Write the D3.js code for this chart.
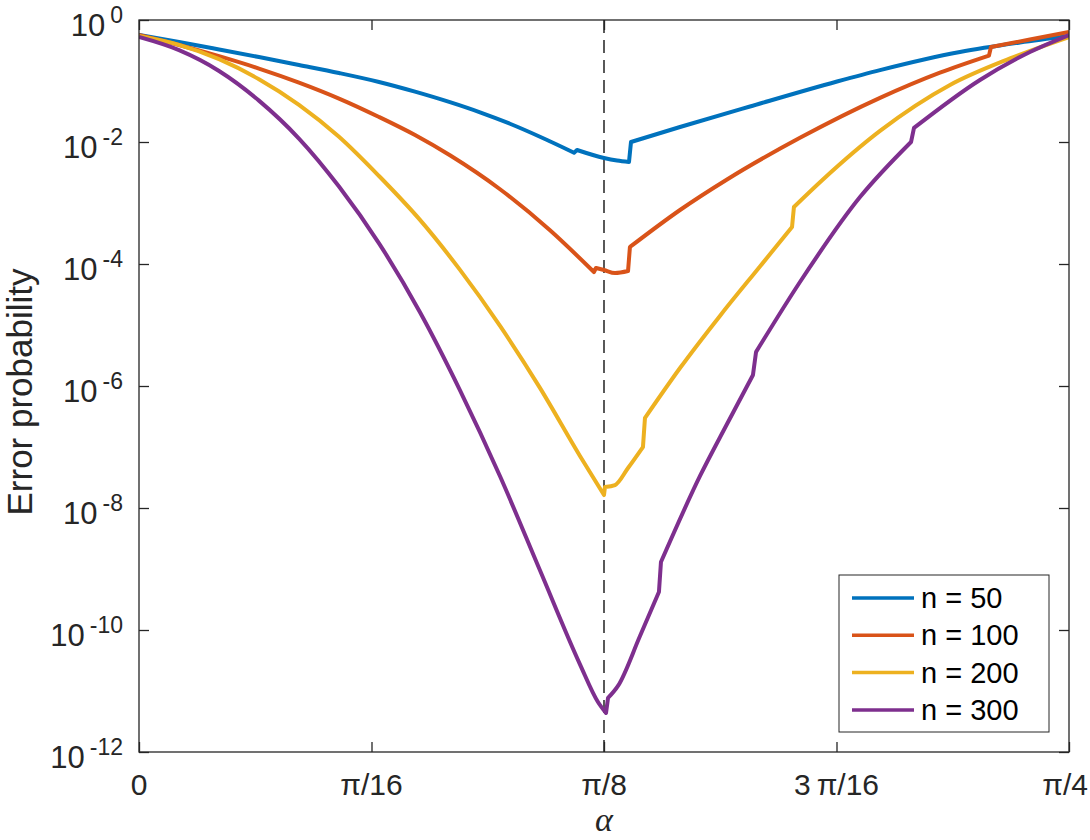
<!DOCTYPE html>
<html><head><meta charset="utf-8">
<script src="https://cdn.jsdelivr.net/npm/d3@7"></script>
<style>body{margin:0;background:#fff} svg{display:block}</style>
</head><body>
<svg id="chart" width="1090" height="840"></svg>
<script>
// ---- data ----
const seriesNames = ["n = 50", "n = 100", "n = 200", "n = 300"];
const seriesColors = ["#0072BD", "#D95319", "#EDB120", "#7E2F8E"];

const xTickValues = [0, Math.PI / 16, Math.PI / 8, 3 * Math.PI / 16, Math.PI / 4];
const xTickLabels = ["0", "π/16", "π/8", "3\u2009π/16", "π/4"];
const yTickValues = [1, 1e-2, 1e-4, 1e-6, 1e-8, 1e-10, 1e-12];
const yTickExponents = ["0", "-2", "-4", "-6", "-8", "-10", "-12"];
const markerAlpha = Math.PI / 8;

const alpha50 = [0, 0.0338, 0.0676, 0.1013, 0.1351, 0.1689, 0.2027, 0.2331, 0.2626, 0.2880, 0.3133, 0.3386, 0.3674, 0.3699, 0.3927, 0.4037, 0.4138, 0.4155, 0.4569, 0.5160, 0.5895, 0.6258, 0.6933, 0.7440, 0.7854];
const p50 = [0.568, 0.436, 0.329, 0.247, 0.183, 0.135, 0.0963, 0.0668, 0.0449, 0.0306, 0.0199, 0.0122, 0.00668, 0.00739, 0.00547, 0.00497, 0.00470, 0.0100, 0.0176, 0.0382, 0.0981, 0.151, 0.299, 0.428, 0.547];

const alpha100 = [0, 0.0338, 0.0676, 0.1013, 0.1351, 0.1689, 0.2027, 0.2331, 0.2626, 0.3049, 0.3471, 0.3842, 0.3859, 0.3927, 0.4020, 0.4130, 0.4146, 0.4569, 0.4966, 0.5582, 0.6258, 0.6764, 0.7178, 0.7195, 0.7524, 0.7854];
const p100 = [0.568, 0.389, 0.255, 0.160, 0.0941, 0.0515, 0.0257, 0.0130, 0.00605, 0.00168, 3.57e-4, 7.39e-5, 8.60e-5, 7.97e-5, 7.12e-5, 7.68e-5, 1.90e-4, 7.68e-4, 0.00243, 0.0117, 0.0529, 0.137, 0.261, 0.361, 0.479, 0.636];

const alpha200 = [0, 0.0338, 0.0676, 0.1013, 0.1351, 0.1689, 0.2027, 0.2373, 0.2711, 0.3049, 0.3386, 0.3724, 0.3927, 0.3935, 0.4020, 0.4130, 0.4256, 0.4273, 0.4569, 0.4906, 0.5244, 0.5515, 0.5531, 0.5776, 0.6258, 0.6849, 0.7356, 0.7854];
const p200 = [0.547, 0.392, 0.228, 0.107, 0.0407, 0.0122, 0.00277, 5.28e-4, 8.00e-5, 9.67e-6, 9.31e-7, 7.12e-8, 1.63e-8, 2.21e-8, 2.38e-8, 4.53e-8, 1.00e-7, 2.99e-7, 1.97e-6, 1.41e-5, 9.10e-5, 4.04e-4, 8.60e-4, 0.00243, 0.0152, 0.0860, 0.234, 0.526];

const alpha300 = [0, 0.0338, 0.0676, 0.1013, 0.1351, 0.1689, 0.2027, 0.2373, 0.2711, 0.3049, 0.3386, 0.3724, 0.3876, 0.3944, 0.3961, 0.4045, 0.4231, 0.4391, 0.4408, 0.4738, 0.4966, 0.5185, 0.5211, 0.5582, 0.6089, 0.6520, 0.6545, 0.7102, 0.7524, 0.7854];
const p300 = [0.526, 0.320, 0.146, 0.0477, 0.0114, 0.00186, 2.18e-4, 1.62e-5, 8.50e-7, 3.31e-8, 9.52e-10, 2.74e-11, 6.60e-12, 4.36e-12, 7.68e-12, 1.21e-11, 7.97e-11, 4.20e-10, 1.30e-9, 3.35e-8, 2.38e-7, 1.51e-6, 3.61e-6, 5.07e-5, 0.00125, 0.0100, 0.0170, 0.104, 0.299, 0.568];

const seriesAlpha = [alpha50, alpha100, alpha200, alpha300];
const seriesP = [p50, p100, p200, p300];

// ---- layout ----
const W = 1090, H = 840;
const L = 139, R = 1069, T = 20, B = 752;
const axisColor = "#262626";
const font = "'Liberation Sans', Arial, Helvetica, sans-serif";

const svg = d3.select("#chart");
svg.append("rect").attr("width", W).attr("height", H).attr("fill", "#fff");

const x = d3.scaleLinear().domain([0, Math.PI / 4]).range([L, R]);
const y = d3.scaleLog().domain([1e-12, 1]).range([B, T]);

svg.append("defs").append("clipPath").attr("id", "clip")
  .append("rect").attr("x", L).attr("y", T).attr("width", R - L).attr("height", B - T);

// dashed marker line
svg.append("line")
  .attr("x1", x(markerAlpha)).attr("x2", x(markerAlpha))
  .attr("y1", T).attr("y2", B)
  .attr("stroke", "#000").attr("stroke-width", 1.3)
  .attr("stroke-dasharray", "13,7");

// series: smooth runs, joined by straight steps where the curve jumps or kinks
const smooth = d3.line().x(d => x(d[0])).y(d => y(d[1])).curve(d3.curveMonotoneX);
function seriesPath(pts) {
  const runs = [[pts[0]]];
  for (let j = 1; j < pts.length; j++) {
    const dx = x(pts[j][0]) - x(pts[j - 1][0]);
    const dy = Math.abs(y(pts[j][1]) - y(pts[j - 1][1]));
    if (dx < 4 || dy / dx > 4) runs.push([pts[j]]);
    else runs[runs.length - 1].push(pts[j]);
  }
  return runs.map((r, k) => {
    const s = r.length > 1 ? smooth(r) : `M${x(r[0][0])},${y(r[0][1])}`;
    return k === 0 ? s : "L" + s.slice(1);
  }).join("");
}
const gLines = svg.append("g").attr("clip-path", "url(#clip)");
seriesNames.forEach((name, i) => {
  const pts = seriesAlpha[i].map((a, j) => [a, seriesP[i][j]]);
  gLines.append("path")
    .attr("d", seriesPath(pts))
    .attr("fill", "none")
    .attr("stroke", seriesColors[i])
    .attr("stroke-width", 4)
    .attr("stroke-linejoin", "round");
});

// axes (ticks inward)
const tickLen = 10;
const axB = d3.axisBottom(x).tickValues(xTickValues).tickSize(-tickLen).tickFormat("");
const axT = d3.axisTop(x).tickValues(xTickValues).tickSize(-tickLen).tickFormat("");
const axL = d3.axisLeft(y).tickValues(yTickValues).tickSize(-tickLen).tickFormat("");
const axR = d3.axisRight(y).tickValues(yTickValues).tickSize(-tickLen).tickFormat("");
[[axB, `translate(0,${B})`], [axT, `translate(0,${T})`], [axL, `translate(${L},0)`], [axR, `translate(${R},0)`]]
  .forEach(([ax, tr]) => {
    const g = svg.append("g").attr("transform", tr).call(ax);
    g.select(".domain").remove();
    g.selectAll(".tick line").attr("stroke", axisColor).attr("stroke-width", 1.3);
  });

svg.append("rect")
  .attr("x", L).attr("y", T).attr("width", R - L).attr("height", B - T)
  .attr("fill", "none").attr("stroke", axisColor).attr("stroke-width", 1.3);

// x tick labels
const xl = svg.append("g").selectAll("text").data(xTickValues).join("text")
  .attr("x", d => x(d)).attr("y", 795)
  .attr("text-anchor", "middle")
  .attr("font-family", font).attr("font-size", 30).attr("fill", axisColor)
  .text((d, i) => xTickLabels[i]);
xl.each(function () {
  const bb = this.getBBox();
  if (bb.x + bb.width > W - 2) {
    d3.select(this).attr("x", +d3.select(this).attr("x") - (bb.x + bb.width - (W - 2)));
  }
});

// y tick labels with superscript
const yl = svg.append("g").selectAll("text").data(yTickValues).join("text")
  .attr("x", 123).attr("y", d => y(d) + 16)
  .attr("text-anchor", "end")
  .attr("font-family", font).attr("font-size", 31).attr("fill", axisColor);
yl.append("tspan").text("10");
yl.append("tspan").attr("dx", 5).attr("dy", -13).attr("font-size", 23).text((d, i) => yTickExponents[i]);

// axis labels
svg.append("text")
  .attr("transform", `translate(32,392) rotate(-90)`)
  .attr("text-anchor", "middle")
  .attr("font-family", font).attr("font-size", 35).attr("fill", axisColor)
  .text("Error probability");

svg.append("text")
  .attr("x", x(Math.PI / 8)).attr("y", 831)
  .attr("text-anchor", "middle")
  .attr("font-family", "'Liberation Serif', 'DejaVu Serif', serif")
  .attr("font-style", "italic")
  .attr("font-size", 34).attr("fill", axisColor)
  .text("α");

// legend
const lg = svg.append("g");
lg.append("rect").attr("x", 839).attr("y", 575).attr("width", 210).attr("height", 157)
  .attr("fill", "#fff").attr("stroke", axisColor).attr("stroke-width", 1);
seriesNames.forEach((name, i) => {
  const yy = 598 + i * 37.3;
  lg.append("line").attr("x1", 852).attr("x2", 914).attr("y1", yy).attr("y2", yy)
    .attr("stroke", seriesColors[i]).attr("stroke-width", 3.5);
  lg.append("text").attr("x", 921).attr("y", yy + 10)
    .attr("font-family", font).attr("font-size", 29).attr("fill", "#000")
    .text(name);
});
</script>
</body></html>
